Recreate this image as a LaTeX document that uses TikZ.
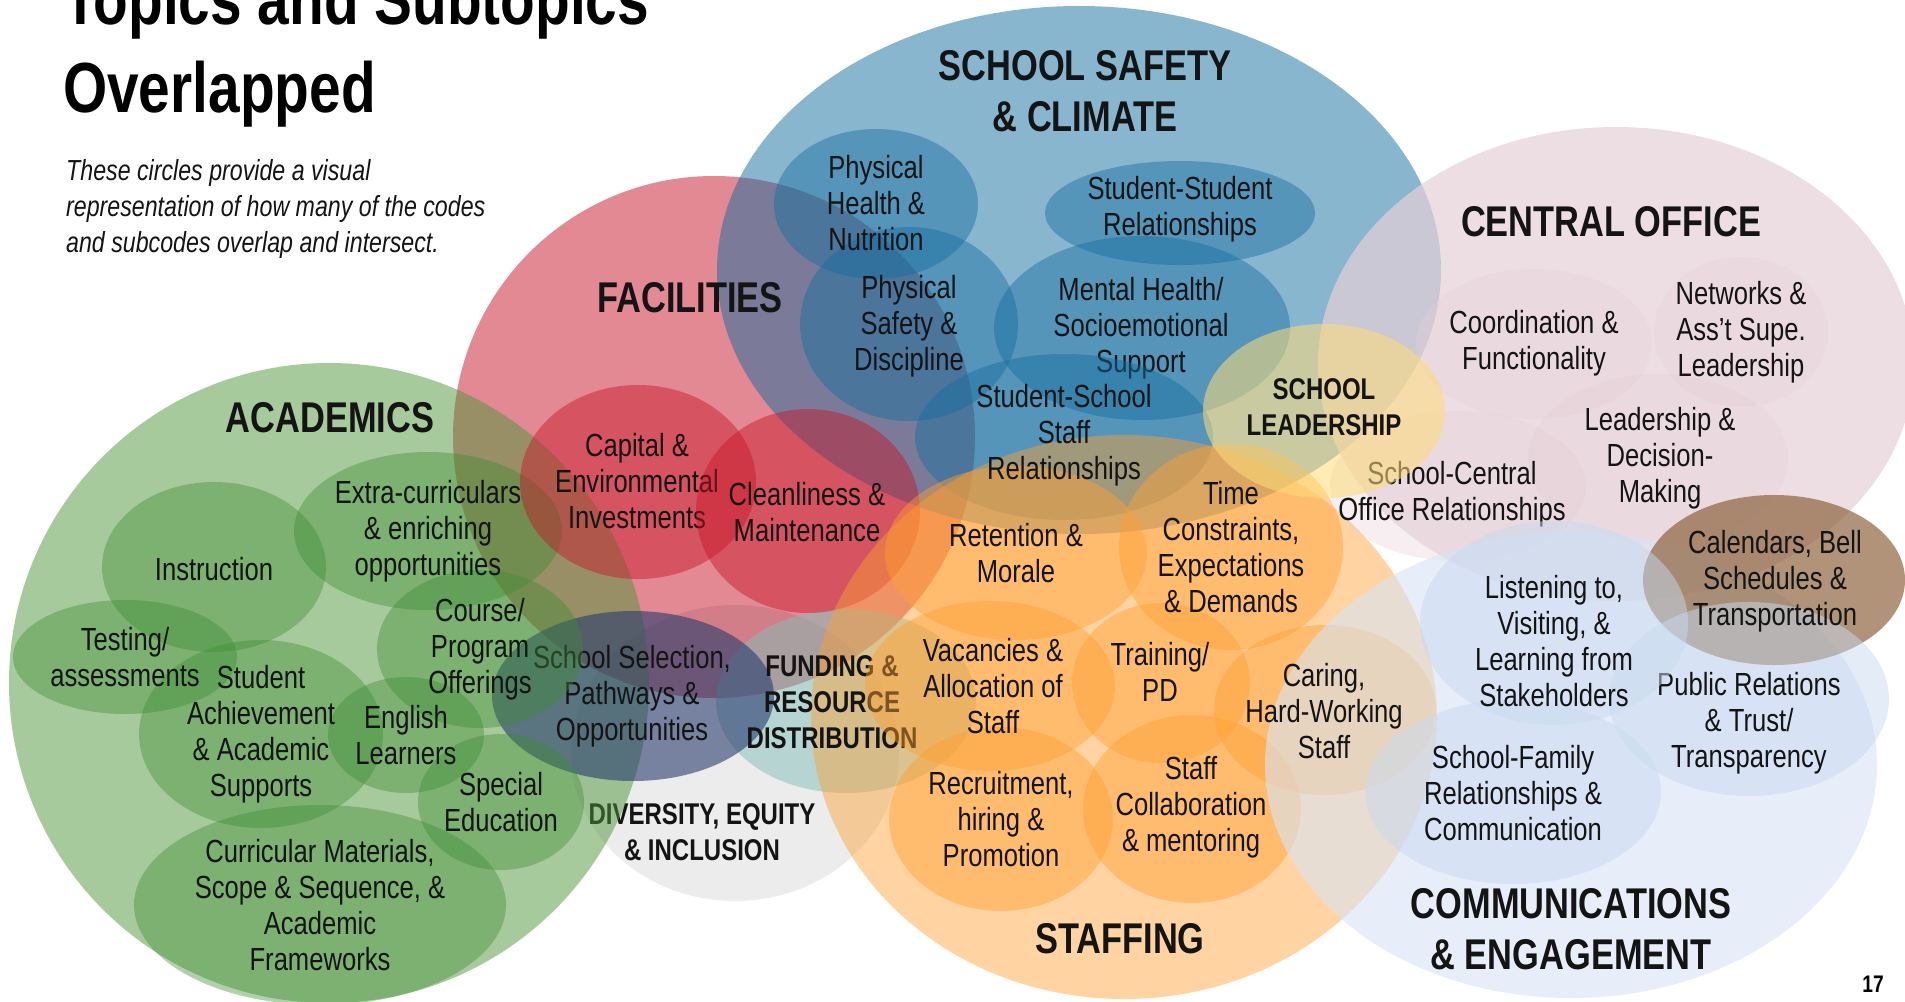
\documentclass[tikz,border=0pt]{standalone}
\usepackage{fontspec}
\setmainfont{Liberation Sans}[FakeStretch=0.8]
\definecolor{ink}{RGB}{20,20,20}
\definecolor{acad}{RGB}{80,150,60}
\definecolor{acadd}{RGB}{60,140,50}
\definecolor{facil}{RGB}{200,20,40}
\definecolor{safe}{RGB}{20,110,160}
\definecolor{staff}{RGB}{255,160,50}
\definecolor{office}{RGB}{230,208,216}
\definecolor{lead}{RGB}{255,220,120}
\definecolor{comm}{RGB}{215,228,245}
\definecolor{commd}{RGB}{200,218,240}
\definecolor{bell}{RGB}{135,90,50}
\definecolor{select}{RGB}{40,60,110}
\definecolor{fund}{RGB}{130,190,185}
\begin{document}
\begin{tikzpicture}[x=1pt,y=-1pt,
    big/.style={fill opacity=0.5},
    small/.style={fill opacity=0.45},
    sub/.style={align=center,text=ink,inner sep=0pt,font=\fontsize{32}{36}\selectfont},
    topic/.style={align=center,text=ink,inner sep=0pt,font=\bfseries\fontsize{43}{51}\selectfont},
    minor/.style={align=center,text=ink,inner sep=0pt,font=\bfseries\fontsize{30}{36}\selectfont}]
\useasboundingbox (0,0) rectangle (1905,1001);
\fill[white] (0,0) rectangle (1905,1001);
\clip (0,0) rectangle (1905,1001);

% facilities and safety
\fill[facil,big] (714,437) circle (261pt);
\fill[safe,big] (1079,270) ellipse (362pt and 264pt);
\foreach \x/\y/\a/\b in {876/204/102/75, 1180/213/135/52, 909/324/109/97, 1142/328/148/92}
    \fill[safe,small] (\x,\y) ellipse (\a pt and \b pt);
\node[sub] (mental) at (1141,328) {Mental Health/\\Socioemotional\\Support};
\fill[safe,small] (1064,437) ellipse (149pt and 83pt);

% diversity and funding
\fill[black,fill opacity=0.075] (735,753) ellipse (164pt and 148pt);
\node[minor] (divlbl) at (702,832) {DIVERSITY, EQUITY\\\& INCLUSION};
\fill[fund,big] (846,701) ellipse (130pt and 92pt);

% academics
\fill[acad,big] (329,683) circle (320pt);
\fill[select,fill opacity=0.6] (633,696) ellipse (141pt and 85pt);
\node[sub] (select) at (632,696) {School Selection,\\Pathways \&\\Opportunities};
\foreach \x/\y/\a/\b in {214/567/112/85, 428/531/134/79, 125/657/112/57, 261/734/122/94,
    480/649/103/79, 406/735/78/58, 501/802/83/68, 320/905/186/100}
    \fill[acadd,fill opacity=0.4] (\x,\y) ellipse (\a pt and \b pt);

\fill[facil,small] (638,482) ellipse (118pt and 97pt);
\node[sub] (capital) at (637,481) {Capital \&\\Environmental\\Investments};
\fill[facil,small] (808,511) ellipse (112pt and 102pt);

% staffing
\fill[staff,small] (1124,717) ellipse (313pt and 282pt);
\node[minor] (fundlbl) at (832,702) {FUNDING \&\\RESOURCE\\DISTRIBUTION};
\foreach \x/\y/\a/\b in {1016/553/131/87, 1231/547/112/103, 990/686/125/85, 1161/683/89/80,
    1325/710/111/85, 1001/819/112/92, 1192/809/109/94}
    \fill[staff,small] (\x,\y) ellipse (\a pt and \b pt);

% central office and leadership
\fill[office,fill opacity=0.7] (1616,364) ellipse (298pt and 237pt);
\foreach \x/\y/\a/\b in {1534/344/118/75, 1741/332/87/75, 1658/459/130/85, 1458/486/128/75}
    \fill[office,fill opacity=0.35] (\x,\y) ellipse (\a pt and \b pt);
\node[sub] (central) at (1452,494) {School-Central\\Office Relationships};
\fill[lead,fill opacity=0.55] (1324,411) ellipse (121pt and 87pt);

% communications
\fill[comm,fill opacity=0.6] (1571,765) ellipse (306pt and 233pt);
\fill[bell,fill opacity=0.65] (1774,580) ellipse (131pt and 85pt);
\fill[commd,big] (1749,699) ellipse (140pt and 97pt);
\node[sub] (public) at (1749,723) {Public Relations\\\& Trust/\\Transparency};
\node[sub] (calendar) at (1775,581) {Calendars, Bell\\Schedules \&\\Transportation};
\fill[commd,big] (1554,623) ellipse (134pt and 102pt);
\fill[commd,big] (1513,792) ellipse (148pt and 92pt);

% labels
\node[anchor=base west,text=black,inner sep=0pt,font=\bfseries\fontsize{71}{80}\selectfont] (title) at (63,24) {Topics and Subtopics};
\node[anchor=base west,text=black,inner sep=0pt,font=\bfseries\fontsize{71}{80}\selectfont] (title2) at (63,112) {Overlapped};
\node[anchor=west,align=left,text=ink,inner sep=0pt,font=\itshape\fontsize{29}{36}\selectfont] (blurb) at (66,209)
    {These circles provide a visual\\representation of how many of the codes\\and subcodes overlap and intersect.};

\node[topic] (faclbl) at (690,298) {FACILITIES};
\node[sub] (clean) at (807,512) {Cleanliness \&\\Maintenance};

\node[topic] (safelbl) at (1085,91) {SCHOOL SAFETY\\\& CLIMATE};
\node[sub] (health) at (876,203) {Physical\\Health \&\\Nutrition};
\node[sub] (studstud) at (1180,209) {Student-Student\\Relationships};
\node[sub] (safety) at (909,326) {Physical\\Safety \&\\Discipline};
\node[sub] (studschool) at (1064,435) {Student-School\\Staff\\Relationships};

\node[topic] (acadlbl) at (330,418) {ACADEMICS};
\node[sub] (instr) at (214,569) {Instruction};
\node[sub] (extra) at (428,531) {Extra-curriculars\\\& enriching\\opportunities};
\node[sub] (testing) at (125,657) {Testing/\\assessments};
\node[sub] (achieve) at (261,734) {Student\\Achievement\\\& Academic\\Supports};
\node[sub] (course) at (480,649) {Course/\\Program\\Offerings};
\node[sub] (english) at (406,735) {English\\Learners};
\node[sub] (sped) at (501,802) {Special\\Education};
\node[sub] (curric) at (320,905) {Curricular Materials,\\Scope \& Sequence, \&\\Academic\\Frameworks};

\node[topic] (stafflbl) at (1120,939) {STAFFING};
\node[sub] (retain) at (1016,553) {Retention \&\\Morale};
\node[sub] (time) at (1231,547) {Time\\Constraints,\\Expectations\\\& Demands};
\node[sub] (vacancy) at (993,686) {Vacancies \&\\Allocation of\\Staff};
\node[sub] (training) at (1160,672) {Training/\\PD};
\node[sub] (caring) at (1324,711) {Caring,\\Hard-Working\\Staff};
\node[sub] (recruit) at (1001,819) {Recruitment,\\hiring \&\\Promotion};
\node[sub] (collab) at (1191,807) {Staff\\Collaboration\\\& mentoring};

\node[minor] (leadlbl) at (1324,407) {SCHOOL\\LEADERSHIP};

\node[topic] (officelbl) at (1611,222) {CENTRAL OFFICE};
\node[sub] (coord) at (1534,343) {Coordination \&\\Functionality};
\node[sub] (network) at (1741,332) {Networks \&\\Ass’t Supe.\\Leadership};
\node[sub] (decide) at (1660,458) {Leadership \&\\Decision-\\Making};

\node[topic] (commlbl) at (1571,929) {COMMUNICATIONS\\\& ENGAGEMENT};
\node[sub] (listen) at (1554,641) {Listening to,\\Visiting, \&\\Learning from\\Stakeholders};
\node[sub] (family) at (1513,793) {School-Family\\Relationships \&\\Communication};

\node[text=black,inner sep=0pt,font=\bfseries\fontsize{24}{28}\selectfont] (page) at (1873,984) {17};
\end{tikzpicture}
\end{document}
